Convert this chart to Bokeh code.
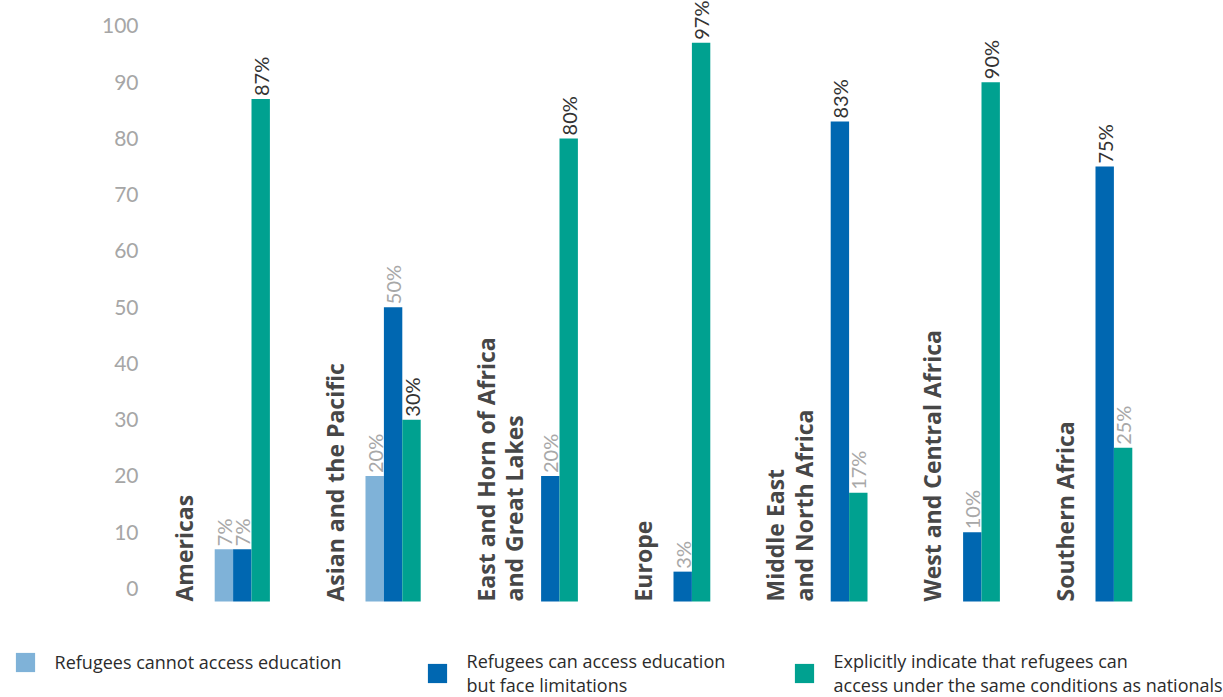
import math
from bokeh.plotting import figure
from bokeh.models import Range1d, FixedTicker, ColumnDataSource, Legend, LegendItem
from bokeh.core.properties import value
from bokeh.embed import file_html
from bokeh.resources import INLINE

# ---------------- data ----------------
regions = [
    "Americas",
    "Asian and the Pacific",
    "East and Horn of Africa\nand Great Lakes",
    "Europe",
    "Middle East\nand North Africa",
    "West and Central Africa",
    "Southern Africa",
]
series_names = [
    "Refugees cannot access education",
    "Refugees can access education\nbut face limitations",
    "Explicitly indicate that refugees can\naccess under the same conditions as nationals",
]
cannot_access = [7, 20, None, None, None, None, None]
with_limitations = [7, 50, 20, 3, 83, 10, 75]
same_as_nationals = [87, 30, 80, 97, 17, 90, 25]
y_ticks = [0, 10, 20, 30, 40, 50, 60, 70, 80, 90, 100]

# ---------------- styles / layout ----------------
COLORS = ["#7FB2D8", "#0067B1", "#00A190"]
DARK_LABELS = {(0, 2), (1, 2), (2, 2), (3, 2), (4, 1), (5, 2), (6, 1)}  # (region, series)
LABEL_DARK, LABEL_LIGHT = "#333333", "#A8A8A8"
CAT_COLOR = "#474747"
TICK_COLOR = "#A6A6A6"
LEGEND_TEXT = "#2B2B2B"

W, H = 1223, 697
AXIS_X = 155                              # x layout units == px
Y_TOP, Y_BOTTOM = 104.51, -19.37          # value range of the frame
BASELINE = -2.31                          # the bars' drawn baseline
BAR_W = 18.4
FIRST_LABEL = 167.5
LABEL_TO_BARS = 46.7
EXTRA_LINE = 24.8
GROUP_GAP = 48.9
LEGEND_X = [12.6, 424.6, 791.6]

series = [cannot_access, with_limitations, same_as_nationals]

# ---------------- layout positions ----------------
label_x = []
bars = [dict(x=[], top=[], txt=[], tone=[]) for _ in series]
cursor = FIRST_LABEL
for i, region in enumerate(regions):
    nlines = region.count("\n") + 1
    label_x.append(cursor)
    bx = cursor + LABEL_TO_BARS + EXTRA_LINE * (nlines - 1)
    for s, vals in enumerate(series):
        v = vals[i]
        if v is None:
            continue
        bars[s]["x"].append(bx + BAR_W / 2)
        bars[s]["top"].append(v)
        bars[s]["txt"].append(f"{v}%")
        bars[s]["tone"].append(LABEL_DARK if (i, s) in DARK_LABELS else LABEL_LIGHT)
        bx += BAR_W
    cursor = bx + GROUP_GAP

# ---------------- chart ----------------
p = figure(
    width=W, height=H,
    x_range=Range1d(0, W),
    y_range=Range1d(Y_BOTTOM, Y_TOP),
    x_axis_location=None,
    toolbar_location=None,
    output_backend="svg",
    min_border=0,
)
p.outline_line_color = None
p.grid.visible = False

ax = p.yaxis[0]
ax.fixed_location = AXIS_X
ax.ticker = FixedTicker(ticks=y_ticks)
ax.axis_line_color = None
ax.major_tick_line_color = None
ax.minor_tick_line_color = None
ax.major_tick_out = 0
ax.major_label_standoff = 17
ax.major_label_text_font = "Lato"
ax.major_label_text_font_size = "21px"
ax.major_label_text_color = TICK_COLOR

renderers = []
for s in range(len(series)):
    src = ColumnDataSource(bars[s])
    r = p.vbar(x="x", top="top", bottom=BASELINE, width=BAR_W, source=src,
               fill_color=COLORS[s], line_color=None)
    renderers.append(r)
    p.text(x="x", y="top", text="txt", source=src, angle=math.pi / 2,
           text_align="left", text_baseline="middle", y_offset=-3,
           text_font=value("Lato"), text_font_size="20px", text_color="tone")

cat_src = ColumnDataSource(dict(x=label_x, y=[BASELINE] * len(regions), text=regions))
p.text(x="x", y="y", text="text", source=cat_src, angle=math.pi / 2,
       text_align="left", text_baseline="top", text_font=value("Open Sans"),
       text_font_style="bold", text_font_size="23px", text_color=CAT_COLOR,
       text_line_height=0.9)

# ---------------- legend ----------------
for s in range(len(series)):
    nlines = series_names[s].count("\n") + 1
    leg = Legend(
        items=[LegendItem(label=series_names[s], renderers=[renderers[s]])],
        location=(LEGEND_X[s], 23 if nlines == 1 else 0),
        glyph_width=24, glyph_height=24, label_standoff=18,
        padding=0, margin=0, spacing=0,
        border_line_color=None, background_fill_alpha=0,
        label_text_font="Open Sans", label_text_font_size="18px",
        label_text_color=LEGEND_TEXT, label_text_line_height=1.3,
    )
    p.add_layout(leg)

open("out.html", "w").write(file_html(p, INLINE))
